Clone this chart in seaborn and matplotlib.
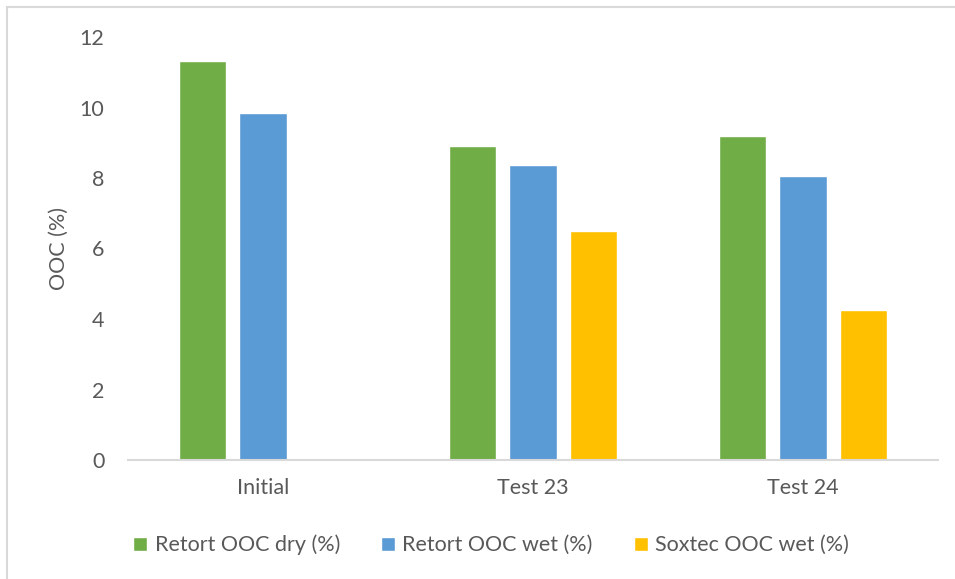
import numpy as np
import pandas as pd
import matplotlib.pyplot as plt
import seaborn as sns
from matplotlib.patches import Rectangle

# values
samples = ["Initial", "Test 23", "Test 24"]
series = ["Retort OOC dry (%)", "Retort OOC wet (%)", "Soxtec OOC wet (%)"]
retort_dry = [11.32, 8.91, 9.18]
retort_wet = [9.84, 8.38, 8.07]
soxtec_wet = [np.nan, 6.50, 4.26]
colors = ["#70AD47", "#5B9BD5", "#FFC000"]

df = pd.DataFrame({
    "sample": samples * 3,
    "series": [s for s in series for _ in samples],
    "value": retort_dry + retort_wet + soxtec_wet,
})

sns.set_style("white")
plt.rcParams["font.family"] = ["Lato", "DejaVu Sans"]
text_col = "#595959"
fs = 15.5

fig = plt.figure(figsize=(9.55, 5.79), dpi=100)
ax = fig.add_axes([128 / 955, 1 - 460 / 579, 810 / 955, 423 / 579])

sns.barplot(data=df, x="sample", y="value", hue="series", order=samples,
            hue_order=series, palette=colors, width=0.667, gap=0.217,
            saturation=1, ax=ax, legend=True)

ax.set_xlim(-0.5, 2.5)
ax.set_ylim(0, 12)
ax.set_yticks(range(0, 13, 2))
ax.set_xlabel("")
ax.set_ylabel("OOC (%)", fontsize=fs, color=text_col, labelpad=8)
ax.tick_params(axis="both", length=0, labelsize=fs, colors=text_col)
ax.tick_params(axis="y", pad=17)
ax.tick_params(axis="x", pad=13)
for side in ["top", "right", "left"]:
    ax.spines[side].set_visible(False)
ax.spines["bottom"].set_color("#D9D9D9")
ax.spines["bottom"].set_linewidth(1.5)

handles, labels = ax.get_legend_handles_labels()
ax.get_legend().remove()
fig.legend(handles, labels, loc="center", bbox_to_anchor=(491 / 955, 1 - 545 / 579),
           ncol=3, frameon=False, fontsize=fs, labelcolor=text_col,
           handlelength=0.65, handleheight=0.65, handletextpad=0.35,
           columnspacing=1.9)

# light frame around the chart area
fig.add_artist(Rectangle((7 / 955, -0.5), 1.5, 1 - 7 / 579 + 0.5,
                         transform=fig.transFigure, fill=False,
                         edgecolor="#D9D9D9", linewidth=1.5))

fig.savefig("out.png", dpi=100)
